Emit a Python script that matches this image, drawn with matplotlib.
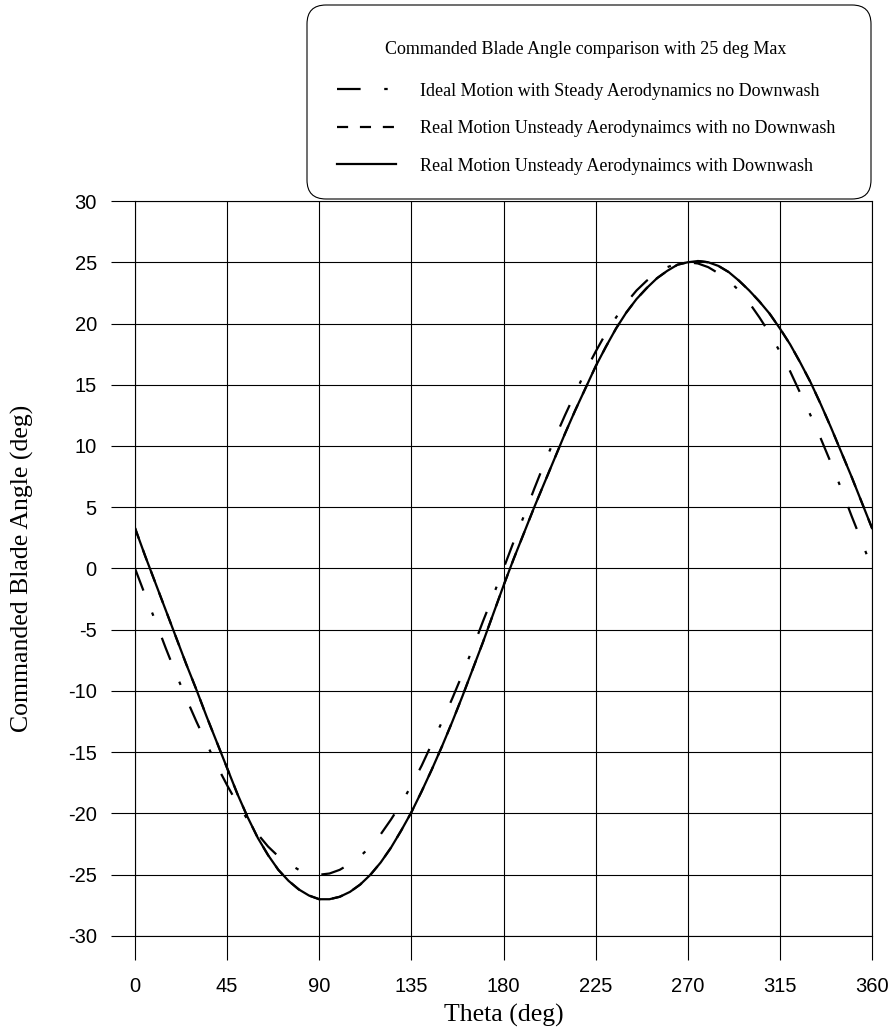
import matplotlib
matplotlib.use("Agg")
import matplotlib.pyplot as plt
from matplotlib.patches import FancyBboxPatch

# blade angle vs azimuth, sampled every 5 deg
theta = list(range(0, 365, 5))

ideal_steady = [0.0, -2.2, -4.3, -6.5, -8.6, -10.6, -12.5, -14.3, -16.1, -17.7, -19.2, -20.5,
                -21.7, -22.7, -23.5, -24.1, -24.6, -24.9, -25.0, -24.9, -24.6, -24.1, -23.5,
                -22.7, -21.7, -20.5, -19.2, -17.7, -16.1, -14.3, -12.5, -10.6, -8.6, -6.5, -4.3,
                -2.2, 0.0, 2.2, 4.3, 6.5, 8.6, 10.6, 12.5, 14.3, 16.1, 17.7, 19.2, 20.5, 21.7,
                22.7, 23.5, 24.1, 24.6, 24.9, 25.0, 24.9, 24.6, 24.1, 23.5, 22.7, 21.7, 20.5,
                19.2, 17.7, 16.1, 14.3, 12.5, 10.6, 8.6, 6.5, 4.3, 2.2, 0.0]

real_no_downwash = [3.3, 1.0, -1.2, -3.4, -5.6, -7.8, -9.9, -12.1, -14.2, -16.3, -18.4, -20.3,
                    -22.0, -23.4, -24.6, -25.5, -26.2, -26.7, -27.0, -27.0, -26.8, -26.4, -25.8,
                    -25.0, -24.0, -22.8, -21.4, -19.9, -18.2, -16.4, -14.5, -12.5, -10.4, -8.2,
                    -6.0, -3.7, -1.4, 0.8, 2.9, 5.0, 7.0, 9.0, 11.0, 12.9, 14.7, 16.5, 18.1, 19.6,
                    20.9, 22.0, 22.9, 23.7, 24.3, 24.8, 25.0, 25.1, 25.0, 24.7, 24.2, 23.5, 22.7,
                    21.8, 20.8, 19.6, 18.3, 16.8, 15.2, 13.4, 11.5, 9.5, 7.5, 5.4, 3.3]

real_downwash = [3.3, 1.0, -1.2, -3.4, -5.6, -7.8, -9.9, -12.1, -14.2, -16.3, -18.4, -20.3,
                 -22.0, -23.4, -24.6, -25.5, -26.2, -26.7, -27.0, -27.0, -26.8, -26.4, -25.8,
                 -25.0, -24.0, -22.8, -21.4, -19.9, -18.2, -16.4, -14.5, -12.5, -10.4, -8.2,
                 -6.0, -3.7, -1.4, 0.8, 2.9, 5.0, 7.0, 9.0, 11.0, 12.9, 14.7, 16.5, 18.1, 19.6,
                 20.9, 22.0, 22.9, 23.7, 24.3, 24.8, 25.0, 25.1, 25.0, 24.7, 24.2, 23.5, 22.7,
                 21.8, 20.8, 19.6, 18.3, 16.8, 15.2, 13.4, 11.5, 9.5, 7.5, 5.4, 3.3]

x_ticks = [0, 45, 90, 135, 180, 225, 270, 315, 360]
y_ticks = [-30, -25, -20, -15, -10, -5, 0, 5, 10, 15, 20, 25, 30]

plt.rcParams['lines.scale_dashes'] = False
plt.rcParams['axes.unicode_minus'] = False

fig = plt.figure(figsize=(8.96, 10.34), dpi=100)
ax = fig.add_axes([0.1507, 0.0948, 0.8225, 0.7108])

lw = 1.6
ax.plot(theta, ideal_steady, color='black', lw=lw, dashes=(17, 17, 2.5, 17),
        label='Ideal Motion with Steady Aerodynamics no Downwash')
ax.plot(theta, real_no_downwash, color='black', lw=lw, dashes=(8, 8.5),
        label='Real Motion Unsteady Aerodynaimcs with no Downwash')
ax.plot(theta, real_downwash, color='black', lw=lw,
        label='Real Motion Unsteady Aerodynaimcs with Downwash')

ax.set_xlim(0, 360)
ax.set_ylim(-30, 30)
ax.set_xticks(x_ticks)
ax.set_yticks(y_ticks)
ax.grid(True, color='black', lw=0.8)
for s in ax.spines.values():
    s.set_linewidth(0.8)
ax.tick_params(direction='out', length=17.5, width=0.8, pad=10, labelsize=14.5)
ax.tick_params(axis='x', pad=12)
for lab in ax.get_xticklabels() + ax.get_yticklabels():
    lab.set_family('Liberation Sans')

ax.set_xlabel('Theta (deg)', family='Liberation Serif', fontsize=18.5)
ax.set_ylabel('Commanded Blade Angle (deg)', family='Liberation Serif', fontsize=18.5)
ax.xaxis.label.set_va('center')
ax.yaxis.label.set_va('center')
ax.xaxis.set_label_coords(0.5, -0.1075)
ax.yaxis.set_label_coords(-0.153, 0.5)

# rounded legend frame, sized in inches so the corners stay circular
frame = FancyBboxPatch((3.07, 8.35), 5.64, 1.94, boxstyle='round,pad=0,rounding_size=0.19',
                       transform=fig.dpi_scale_trans, facecolor='white', edgecolor='black',
                       lw=0.8, zorder=0)
fig.patches.append(frame)

leg = fig.legend(loc='upper left', bbox_to_anchor=(301 / 896, 1 - 199 / 1034, 570 / 896, 194 / 1034),
                 mode='expand', title='Commanded Blade Angle comparison with 25 deg Max',
                 prop={'family': 'Liberation Serif', 'size': 13},
                 title_fontproperties={'family': 'Liberation Serif', 'size': 13},
                 handlelength=3.3, handletextpad=1.3, borderpad=1.97, labelspacing=1.14,
                 borderaxespad=0, frameon=False)
leg._legend_box.sep = 18

fig.savefig('out.png', dpi=100)
